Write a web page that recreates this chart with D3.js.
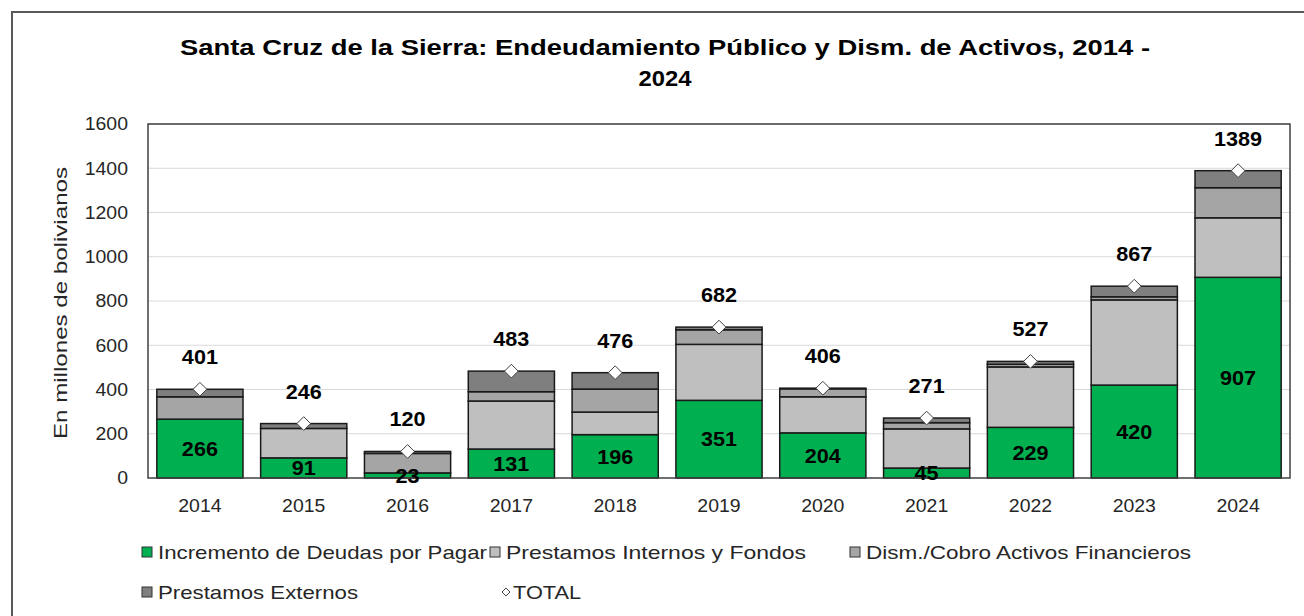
<!DOCTYPE html>
<html>
<head>
<meta charset="utf-8">
<script src="https://cdn.jsdelivr.net/npm/d3@7"></script>
<style>
  body { margin: 0; background: #fff; }
  text { font-family: "Liberation Sans", Arial, sans-serif; }
</style>
</head>
<body>
<div id="chart"></div>
<script>
const years = ["2014", "2015", "2016", "2017", "2018", "2019", "2020", "2021", "2022", "2023", "2024"];
const incremento = [266, 91, 23, 131, 196, 351, 204, 45, 229, 420, 907];
const internos = [0, 133, 0, 217, 102, 253, 163, 177, 273, 385, 269];
const dism = [101, 0, 88, 42, 104, 66, 36, 28, 12, 14, 136];
const externos = [34, 22, 9, 93, 74, 12, 3, 21, 13, 48, 77];
const totals = [401, 246, 120, 483, 476, 682, 406, 271, 527, 867, 1389];
const yTicks = [0, 200, 400, 600, 800, 1000, 1200, 1400, 1600];

const seriesNames = ["Incremento de Deudas por Pagar", "Prestamos Internos y  Fondos", "Dism./Cobro Activos Financieros", "Prestamos Externos"];
const seriesKeys = ["inc", "int", "dism", "ext"];
const seriesColors = ["#00B050", "#BFBFBF", "#A5A5A5", "#7F7F7F"];

let width = 1304,
  height = 616;

let svg = d3.select("#chart")
  .append("svg")
  .attr("width", width)
  .attr("height", height);

// outer frame (right / bottom edges fall outside the picture)
svg.append("rect")
  .attr("x", 12).attr("y", 12)
  .attr("width", 1310).attr("height", 620)
  .attr("fill", "none")
  .attr("stroke", "#595959")
  .attr("stroke-width", 2);

let plot = { left: 148, right: 1290, top: 124, bottom: 478 };

let table = years.map((y, i) => ({
  year: y, inc: incremento[i], int: internos[i], dism: dism[i], ext: externos[i], total: totals[i]
}));

let x = d3.scaleBand()
  .domain(years)
  .range([plot.left, plot.right])
  .paddingInner(0.17)
  .paddingOuter(0.085);

let y = d3.scaleLinear()
  .domain([0, 1600])
  .range([plot.bottom, plot.top]);

// gridlines
svg.append("g")
  .selectAll("line")
  .data(yTicks.slice(1))
  .join("line")
  .attr("x1", plot.left).attr("x2", plot.right)
  .attr("y1", d => y(d)).attr("y2", d => y(d))
  .attr("stroke", "#D9D9D9")
  .attr("stroke-width", 1.2);

// y tick labels
svg.append("g")
  .selectAll("text")
  .data(yTicks)
  .join("text")
  .attr("class", "stretch")
  .attr("x", 128)
  .attr("y", d => y(d))
  .attr("dy", "0.36em")
  .attr("text-anchor", "end")
  .attr("font-size", 18)
  .attr("fill", "#262626")
  .text(d => d);

// y title
svg.append("text")
  .attr("transform", "translate(67," + ((plot.top + plot.bottom) / 2 + 2) + ") rotate(-90)")
  .attr("text-anchor", "middle")
  .attr("font-size", 19)
  .attr("fill", "#262626")
  .attr("textLength", 272)
  .attr("lengthAdjust", "spacingAndGlyphs")
  .text("En millones de bolivianos");

// stacked bars
let stack = d3.stack().keys(seriesKeys);
let stacked = stack(table);

let color = d3.scaleOrdinal().domain(seriesKeys).range(seriesColors);

svg.append("g")
  .selectAll("g")
  .data(stacked)
  .join("g")
  .attr("fill", d => color(d.key))
  .selectAll("rect")
  .data(d => d.filter(s => s[1] - s[0] > 0))
  .join("rect")
  .attr("x", d => x(d.data.year))
  .attr("width", x.bandwidth())
  .attr("y", d => y(d[1]))
  .attr("height", d => y(d[0]) - y(d[1]))
  .attr("stroke", "#1a1a1a")
  .attr("stroke-width", 1.5);

// plot border
svg.append("rect")
  .attr("x", plot.left).attr("y", plot.top)
  .attr("width", plot.right - plot.left)
  .attr("height", plot.bottom - plot.top)
  .attr("fill", "none")
  .attr("stroke", "#404040")
  .attr("stroke-width", 1.5);

// green labels
svg.append("g")
  .selectAll("text")
  .data(stacked[0])
  .join("text")
  .attr("class", "stretch")
  .attr("x", d => x(d.data.year) + x.bandwidth() / 2)
  .attr("y", d => (y(d[0]) + y(d[1])) / 2)
  .attr("dy", "0.36em")
  .attr("text-anchor", "middle")
  .attr("font-size", 20)
  .attr("font-weight", "bold")
  .attr("fill", "#000")
  .text(d => d.data.inc);

// total markers
svg.append("g")
  .selectAll("path")
  .data(table)
  .join("path")
  .attr("d", d3.symbol(d3.symbolDiamond2, 120))
  .attr("transform", d => `translate(${x(d.year) + x.bandwidth() / 2},${y(d.total)})`)
  .attr("fill", "#fff")
  .attr("stroke", "#404040")
  .attr("stroke-width", 1);

// total labels
svg.append("g")
  .selectAll("text")
  .data(table)
  .join("text")
  .attr("class", "stretch")
  .attr("x", d => x(d.year) + x.bandwidth() / 2)
  .attr("y", d => y(d.total) - 25)
  .attr("text-anchor", "middle")
  .attr("font-size", 20)
  .attr("font-weight", "bold")
  .attr("fill", "#000")
  .text(d => d.total);

// x labels
svg.append("g")
  .selectAll("text")
  .data(years)
  .join("text")
  .attr("class", "stretch")
  .attr("x", d => x(d) + x.bandwidth() / 2)
  .attr("y", 512)
  .attr("text-anchor", "middle")
  .attr("font-size", 18)
  .attr("fill", "#262626")
  .text(d => d);

// title
svg.append("text")
  .attr("x", 665).attr("y", 55)
  .attr("text-anchor", "middle")
  .attr("font-size", 22)
  .attr("font-weight", "bold")
  .attr("textLength", 970)
  .attr("lengthAdjust", "spacingAndGlyphs")
  .text("Santa Cruz de la Sierra: Endeudamiento Público y Dism. de Activos, 2014 -");
svg.append("text")
  .attr("class", "stretch")
  .attr("x", 665).attr("y", 86)
  .attr("text-anchor", "middle")
  .attr("font-size", 22)
  .attr("font-weight", "bold")
  .text("2024");

// legend
let legendItems = [
  { name: seriesNames[0], color: seriesColors[0], x: 142, y: 552, len: 329 },
  { name: seriesNames[1], color: seriesColors[1], x: 490, y: 552, len: 300 },
  { name: seriesNames[2], color: seriesColors[2], x: 850, y: 552, len: 325 },
  { name: seriesNames[3], color: seriesColors[3], x: 142, y: 592, len: 200 }
];

let lg = svg.append("g");
lg.selectAll("rect")
  .data(legendItems)
  .join("rect")
  .attr("x", d => d.x).attr("y", d => d.y - 5)
  .attr("width", 10).attr("height", 10)
  .attr("fill", d => d.color)
  .attr("stroke", "#333")
  .attr("stroke-width", 1);
lg.selectAll("text")
  .data(legendItems)
  .join("text")
  .attr("x", d => d.x + 16)
  .attr("y", d => d.y)
  .attr("dy", "0.36em")
  .attr("font-size", 19)
  .attr("fill", "#262626")
  .attr("textLength", d => d.len)
  .attr("lengthAdjust", "spacingAndGlyphs")
  .text(d => d.name);

lg.append("path")
  .attr("d", d3.symbol(d3.symbolDiamond2, 40))
  .attr("transform", "translate(506,592)")
  .attr("fill", "#fff")
  .attr("stroke", "#404040");
lg.append("text")
  .attr("x", 513).attr("y", 592)
  .attr("dy", "0.36em")
  .attr("font-size", 19)
  .attr("fill", "#262626")
  .attr("textLength", 68)
  .attr("lengthAdjust", "spacingAndGlyphs")
  .text("TOTAL");

// widen the short texts a little, like the original
svg.selectAll("text.stretch").each(function () {
  let w = this.getComputedTextLength();
  d3.select(this).attr("textLength", w * 1.08).attr("lengthAdjust", "spacingAndGlyphs");
});
</script>
</body>
</html>
